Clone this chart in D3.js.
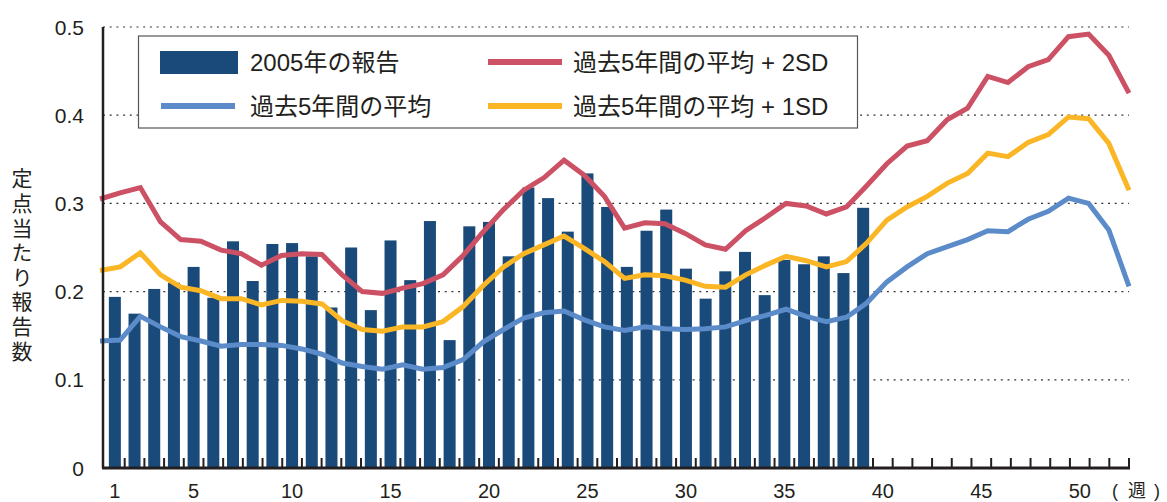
<!DOCTYPE html>
<html>
<head>
<meta charset="utf-8">
<script src="https://cdn.jsdelivr.net/npm/d3@7"></script>
<style>
  body { margin: 0; background: #fff; }
</style>
</head>
<body>
<svg width="1167" height="502"></svg>
<script>
const width = 1167;
const height = 502;

// data
const weeks = d3.range(1, 53);
const reports2005 = [
  0.194, 0.175, 0.203, 0.210, 0.228, 0.193, 0.257, 0.212, 0.254, 0.255,
  0.240, 0.182, 0.250, 0.179, 0.258, 0.213, 0.280, 0.145, 0.274, 0.279,
  0.240, 0.318, 0.306, 0.268, 0.334, 0.296, 0.228, 0.269, 0.293, 0.226,
  0.192, 0.223, 0.245, 0.196, 0.236, 0.231, 0.240, 0.221, 0.295,
];
const mean5y = [
  0.144, 0.145, 0.172, 0.160, 0.149, 0.144, 0.138, 0.140, 0.140, 0.139,
  0.135, 0.129, 0.119, 0.115, 0.112, 0.117, 0.112, 0.114, 0.123, 0.143,
  0.157, 0.170, 0.176, 0.178, 0.168, 0.160, 0.156, 0.160, 0.158, 0.157,
  0.158, 0.160, 0.167, 0.173, 0.180, 0.172, 0.166, 0.171, 0.187, 0.211,
  0.228, 0.243, 0.251, 0.259, 0.269, 0.268, 0.282, 0.291, 0.306, 0.300,
  0.270, 0.206,
];
const plus1SD = [
  0.224, 0.228, 0.244, 0.219, 0.205, 0.201, 0.192, 0.192, 0.185, 0.190,
  0.189, 0.186, 0.167, 0.157, 0.155, 0.160, 0.160, 0.166, 0.183, 0.207,
  0.228, 0.243, 0.253, 0.263, 0.249, 0.234, 0.215, 0.219, 0.218, 0.213,
  0.206, 0.205, 0.219, 0.230, 0.240, 0.235, 0.228, 0.234, 0.255, 0.281,
  0.296, 0.308, 0.323, 0.334, 0.357, 0.353, 0.369, 0.378, 0.398, 0.396,
  0.368, 0.315,
];
const plus2SD = [
  0.305, 0.312, 0.318, 0.279, 0.259, 0.257, 0.247, 0.243, 0.230, 0.241,
  0.243, 0.242, 0.219, 0.200, 0.198, 0.204, 0.209, 0.219, 0.241, 0.268,
  0.293, 0.315, 0.329, 0.349, 0.332, 0.308, 0.272, 0.278, 0.277, 0.266,
  0.253, 0.248, 0.269, 0.284, 0.300, 0.297, 0.288, 0.296, 0.320, 0.345,
  0.365, 0.371, 0.395, 0.408, 0.444, 0.437, 0.455, 0.463, 0.489, 0.492,
  0.468, 0.425,
];
const yTicks = [0, 0.1, 0.2, 0.3, 0.4, 0.5];
const xTickLabels = [1, 5, 10, 15, 20, 25, 30, 35, 40, 45, 50];
const yTitle = "定点当たり報告数";
const xTitle = ["(", "週", ")"];

const legendItems = [
  { label: "2005年の報告", type: "bar", color: "#194a7a", col: 0, row: 0 },
  { label: "過去5年間の平均", type: "line", color: "#5b8bc9", col: 0, row: 1 },
  { label: "過去5年間の平均 + 2SD", type: "line", color: "#cc5165", col: 1, row: 0 },
  { label: "過去5年間の平均 + 1SD", type: "line", color: "#fbb625", col: 1, row: 1 },
];

const fontFamily = "'Liberation Sans', Arial, 'Noto Sans CJK JP', sans-serif";
const cjkFont = "'Noto Sans CJK JP', sans-serif";
const textColor = "#231f20";

// layout
const axisLeft = 103,
  axisRight = 1129,
  plotTop = 27,
  plotBottom = 468;

const svg = d3.select("svg").attr("font-family", fontFamily);

const x = d3
  .scaleBand()
  .domain(weeks)
  .range([axisLeft + 2, axisRight])
  .paddingInner(0.39)
  .paddingOuter(0.195);

// lines run edge to edge of the axis
const xLine = d3.scalePoint().domain(weeks).range([axisLeft - 3, axisRight]);

const y = d3.scaleLinear().domain([0, 0.5]).range([plotBottom, plotTop]);

// gridlines
svg
  .append("g")
  .selectAll("line")
  .data(yTicks.filter((d) => d > 0))
  .join("line")
  .attr("x1", axisLeft)
  .attr("x2", axisRight)
  .attr("y1", (d) => y(d))
  .attr("y2", (d) => y(d))
  .attr("stroke", "#333")
  .attr("stroke-width", 1.2)
  .attr("stroke-dasharray", "2,4.7");

// bars
svg
  .append("g")
  .selectAll("rect")
  .data(reports2005)
  .join("rect")
  .attr("x", (d, i) => x(weeks[i]))
  .attr("y", (d) => y(d))
  .attr("width", x.bandwidth())
  .attr("height", (d) => y(0) - y(d))
  .attr("fill", "#194a7a");

// lines
const line = d3
  .line()
  .x((d, i) => xLine(weeks[i]))
  .y((d) => y(d));

const series = [
  { values: mean5y, color: "#5b8bc9" },
  { values: plus1SD, color: "#fbb625" },
  { values: plus2SD, color: "#cc5165" },
];

svg
  .append("g")
  .attr("fill", "none")
  .selectAll("path")
  .data(series)
  .join("path")
  .attr("d", (d) => line(d.values))
  .attr("stroke", (d) => d.color)
  .attr("stroke-width", 5)
  .attr("stroke-linejoin", "miter");

// x axis (ticks pointing up at week boundaries)
const xAxis = svg.append("g");
xAxis
  .append("line")
  .attr("x1", axisLeft - 1)
  .attr("x2", axisRight + 1)
  .attr("y1", plotBottom)
  .attr("y2", plotBottom)
  .attr("stroke", "#231f20")
  .attr("stroke-width", 3);

const boundary = (d) => x(d) - (x.step() * x.paddingInner()) / 2 + x.step();

xAxis
  .selectAll(".tick")
  .data(weeks)
  .join("line")
  .attr("class", "tick")
  .attr("x1", boundary)
  .attr("x2", boundary)
  .attr("y1", plotBottom)
  .attr("y2", plotBottom - 10)
  .attr("stroke", "#231f20")
  .attr("stroke-width", 2);

xAxis
  .selectAll("text")
  .data(xTickLabels)
  .join("text")
  .attr("x", (d) => x(d) + x.bandwidth() / 2)
  .attr("y", 498)
  .attr("text-anchor", "middle")
  .attr("font-size", 20)
  .attr("fill", textColor)
  .text((d) => d);

// (週), spread out like the original
const xTitleX = [1115, 1137, 1157];
svg
  .append("g")
  .selectAll("text")
  .data(xTitle)
  .join("text")
  .attr("x", (d, i) => xTitleX[i])
  .attr("y", 497)
  .attr("text-anchor", "middle")
  .attr("font-size", 18)
  .attr("font-family", (d, i) => (i === 1 ? cjkFont : fontFamily))
  .attr("fill", textColor)
  .text((d) => d);

// y axis
svg
  .append("line")
  .attr("x1", axisLeft)
  .attr("x2", axisLeft)
  .attr("y1", plotTop)
  .attr("y2", plotBottom)
  .attr("stroke", "#231f20")
  .attr("stroke-width", 2.5);

svg
  .append("g")
  .selectAll("text")
  .data(yTicks)
  .join("text")
  .attr("x", 84)
  .attr("y", (d) => y(d))
  .attr("dy", "0.36em")
  .attr("text-anchor", "end")
  .attr("font-size", 21)
  .attr("fill", textColor)
  .text((d) => (d === 0 ? "0" : d3.format(".1f")(d)));

// vertical y title
svg
  .append("text")
  .attr("x", 22)
  .attr("y", 168)
  .attr("font-size", 21)
  .attr("font-family", cjkFont)
  .attr("fill", textColor)
  .style("writing-mode", "vertical-rl")
  .style("letter-spacing", "3.6px")
  .text(yTitle);

// legend
const legend = svg.append("g");
legend
  .append("rect")
  .attr("x", 138.5)
  .attr("y", 36)
  .attr("width", 719)
  .attr("height", 92)
  .attr("fill", "#fff")
  .attr("stroke", "#555")
  .attr("stroke-width", 1.2);

const colX = [160, 487],
  rowY = [62, 106];

const items = legend
  .selectAll("g")
  .data(legendItems)
  .join("g")
  .attr("transform", (d) => `translate(${colX[d.col]}, ${rowY[d.row]})`);

items
  .filter((d) => d.type === "bar")
  .append("rect")
  .attr("x", 0)
  .attr("y", -11)
  .attr("width", 78)
  .attr("height", 23)
  .attr("fill", (d) => d.color);

items
  .filter((d) => d.type === "line")
  .append("line")
  .attr("x1", 1)
  .attr("x2", 75)
  .attr("stroke", (d) => d.color)
  .attr("stroke-width", 6);

items
  .append("text")
  .attr("x", (d) => (d.col === 0 ? 90 : 86))
  .attr("dy", "0.36em")
  .attr("font-size", 24)
  .attr("fill", textColor)
  .text((d) => d.label);
</script>
</body>
</html>
